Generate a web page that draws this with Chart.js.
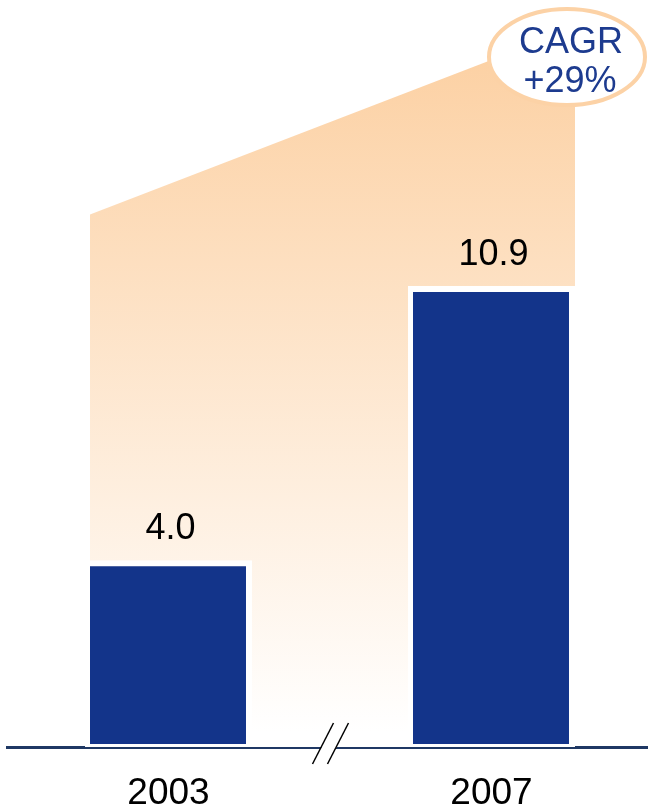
<!DOCTYPE html>
<html>
<head>
<meta charset="utf-8">
<script src="https://cdn.jsdelivr.net/npm/chart.js@4"></script>
<style>
  html, body { margin: 0; padding: 0; background: #fff; overflow: hidden; }
  /* a bit wider than the page so the baseline runs off the right edge */
  #box { width: 653px; height: 812px; }
</style>
</head>
<body>
<div id="box"><canvas id="growthChart"></canvas></div>
<script>
const years = ['2003', '2007'];
const revenue = [4.0, 10.9];
const cagrLines = ['CAGR', '+29%'];

// hidden value axis range, bars start at its bottom
const yMin = -0.7;
const yMax = 18.1;
// top corners of the orange wedge, in value-axis units
const wedgeLeft = 12.7;
const wedgeRight = 17.4;

const fontFamily = "'Liberation Sans', Arial, sans-serif";
const navy = '#13348a';

// orange wedge behind the bars, fading to white at the baseline
const wedgePlugin = {
    id: 'wedge',
    beforeDatasetsDraw(chart) {
        const { ctx, chartArea } = chart;
        const [b1, b2] = chart.getDatasetMeta(0).data;
        const y = chart.scales.y;
        const left = b1.x - b1.width / 2 + 5;
        const right = b2.x + b2.width / 2;
        const topL = y.getPixelForValue(wedgeLeft);
        const topR = y.getPixelForValue(wedgeRight);
        const grad = ctx.createLinearGradient(0, topR, 0, chartArea.bottom - 15);
        grad.addColorStop(0, '#fccfa0');
        grad.addColorStop(1, '#ffffff');
        ctx.save();
        ctx.fillStyle = grad;
        ctx.beginPath();
        ctx.moveTo(left, chartArea.bottom);
        ctx.lineTo(left, topL);
        ctx.lineTo(right, topR);
        ctx.lineTo(right, chartArea.bottom);
        ctx.closePath();
        ctx.fill();
        ctx.restore();
    }
};

// value labels, axis break and the CAGR bubble
const extrasPlugin = {
    id: 'extras',
    afterDraw(chart) {
        const { ctx, chartArea } = chart;
        const bars = chart.getDatasetMeta(0).data;
        ctx.save();

        ctx.fillStyle = '#000';
        ctx.font = `36px ${fontFamily}`;
        ctx.textAlign = 'center';
        ctx.textBaseline = 'alphabetic';
        bars.forEach((bar, i) => {
            ctx.fillText(revenue[i].toFixed(1), bar.x + 2, bar.y - 21);
        });

        // "//" break on the baseline
        const mx = (bars[0].x + bars[1].x) / 2 + 1;
        const my = chartArea.bottom;
        ctx.fillStyle = '#fff';
        ctx.beginPath();
        ctx.moveTo(mx - 12, my + 5);
        ctx.lineTo(mx - 4, my - 10);
        ctx.lineTo(mx + 11, my - 10);
        ctx.lineTo(mx + 3, my + 5);
        ctx.closePath();
        ctx.fill();
        ctx.strokeStyle = '#000';
        ctx.lineWidth = 1.5;
        [-8, 7].forEach(dx => {
            ctx.beginPath();
            ctx.moveTo(mx + dx - 10.5, my + 17);
            ctx.lineTo(mx + dx + 10.5, my - 24);
            ctx.stroke();
        });

        // CAGR ellipse
        const cx = chartArea.right - 86;
        const cy = chartArea.top + 57;
        ctx.beginPath();
        ctx.ellipse(cx, cy, 78, 48, 0, 0, Math.PI * 2);
        ctx.fillStyle = '#fff';
        ctx.fill();
        ctx.lineWidth = 4;
        ctx.strokeStyle = '#fcd2a6';
        ctx.stroke();
        ctx.fillStyle = '#1d3b8f';
        ctx.font = `36px ${fontFamily}`;
        ctx.fillText(cagrLines[0], cx + 4, cy - 4);
        ctx.fillText(cagrLines[1], cx + 3, cy + 35);

        ctx.restore();
    }
};

const ctx = document.getElementById('growthChart').getContext('2d');
const growthChart = new Chart(ctx, {
    type: 'bar',
    data: {
        labels: years,
        datasets: [{
            data: revenue,
            base: yMin,
            backgroundColor: navy,
            borderColor: '#ffffff',
            borderWidth: { top: 6, left: 5, right: 6, bottom: 3 },
            borderSkipped: false,
            barPercentage: 0.517,
            categoryPercentage: 1
        }]
    },
    options: {
        responsive: true,
        maintainAspectRatio: false,
        animation: false,
        layout: { padding: { left: 7, right: 0, top: 0, bottom: 0 } },
        plugins: {
            legend: { display: false },
            tooltip: { enabled: false }
        },
        scales: {
            x: {
                z: 1,
                grid: { display: false, drawTicks: false },
                border: { display: true, color: '#1f3864', width: 3 },
                ticks: {
                    color: '#000',
                    padding: 25,
                    font: { family: fontFamily, size: 37, lineHeight: 1.2 }
                },
                afterFit: scale => { scale.height = 65; }
            },
            y: {
                display: false,
                min: yMin,
                max: yMax
            }
        }
    },
    plugins: [wedgePlugin, extrasPlugin]
});
</script>
</body>
</html>
